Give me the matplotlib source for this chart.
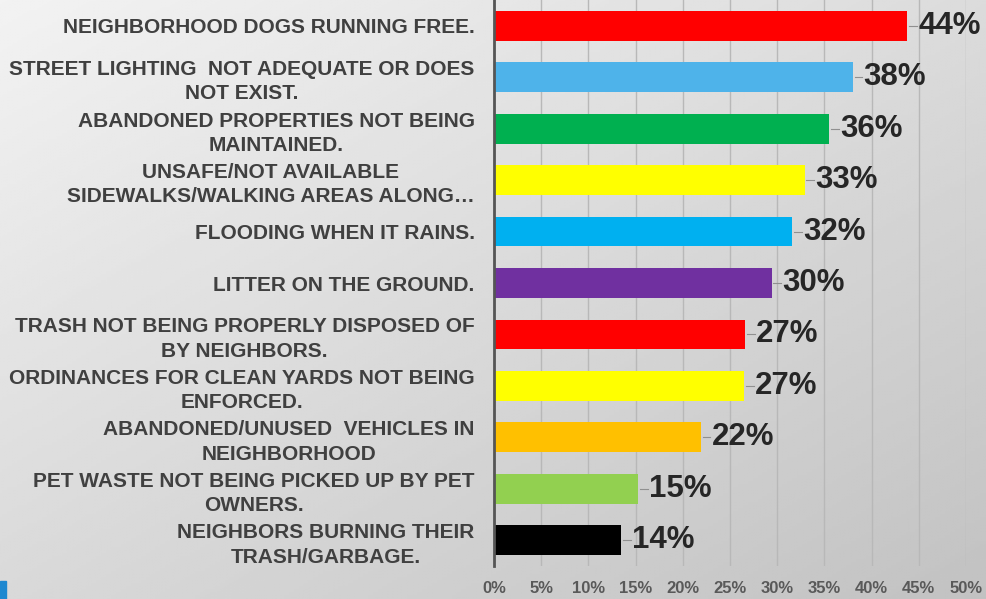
import matplotlib.pyplot as plt
import numpy as np
from matplotlib.patches import Rectangle

plt.rcParams["font.family"] = ["Liberation Sans", "DejaVu Sans"]

categories = [
    "NEIGHBORHOOD DOGS RUNNING FREE.",
    "STREET LIGHTING  NOT ADEQUATE OR DOES\nNOT EXIST.",
    "ABANDONED PROPERTIES NOT BEING\nMAINTAINED.",
    "UNSAFE/NOT AVAILABLE\nSIDEWALKS/WALKING AREAS ALONG…",
    "FLOODING WHEN IT RAINS.",
    "LITTER ON THE GROUND.",
    "TRASH NOT BEING PROPERLY DISPOSED OF\nBY NEIGHBORS.",
    "ORDINANCES FOR CLEAN YARDS NOT BEING\nENFORCED.",
    "ABANDONED/UNUSED  VEHICLES IN\nNEIGHBORHOOD",
    "PET WASTE NOT BEING PICKED UP BY PET\nOWNERS.",
    "NEIGHBORS BURNING THEIR\nTRASH/GARBAGE.",
]
values = [43.8, 38.0, 35.5, 32.9, 31.6, 29.4, 26.6, 26.5, 21.9, 15.3, 13.5]
value_labels = ["44%", "38%", "36%", "33%", "32%", "30%", "27%", "27%", "22%", "15%", "14%"]
bar_colors = ["#FF0000", "#4EB3EA", "#00B050", "#FFFF00", "#00B0F0", "#7030A0",
              "#FF0000", "#FFFF00", "#FFC000", "#92D050", "#000000"]
x_ticks = list(range(0, 51, 5))

fig = plt.figure(figsize=(9.87, 5.99), dpi=100)

# slide-like gradient background
bg = fig.add_axes([0, 0, 1, 1], zorder=-10)
gx, gy = np.meshgrid(np.linspace(0, 1, 200), np.linspace(0, 1, 200))
shade = 0.95 - 0.09 * gx - 0.10 * gy
bg.imshow(shade, cmap="gray", vmin=0, vmax=1, aspect="auto", extent=[0, 1, 0, 1],
          origin="upper")
bg.axis("off")
fig.patches.append(Rectangle((0, 0), 0.006, 0.03, transform=fig.transFigure,
                             color="#1E88D0", zorder=5))

ax = fig.add_axes([0.5005, 0.055, 0.4782, 0.945])
ax.patch.set_alpha(0)

y = np.arange(len(categories))
ax.barh(y, values, height=0.58, color=bar_colors, edgecolor="none", zorder=3)

for yi, v, lab in zip(y, values, value_labels):
    ax.plot([v + 0.2, v + 1.0], [yi, yi], color="#909090", lw=0.8, zorder=3)
    ax.text(v + 1.15, yi, lab, ha="left", va="center", fontsize=22.5,
            fontweight="bold", color="#262626", zorder=4)

ax.set_xlim(0, 50)
ax.set_ylim(len(categories) - 0.5, -0.5)
ax.set_xticks(x_ticks)
ax.set_xticklabels([f"{t}%" for t in x_ticks], fontsize=12, color="#595959",
                   fontweight="bold")
ax.set_yticks(y)
ax.set_yticklabels(categories, fontsize=15, fontweight="bold", color="#404040",
                   linespacing=1.35)
for t in ax.get_yticklabels():
    t.set_multialignment("center")
ax.tick_params(axis="both", length=0)
ax.tick_params(axis="y", pad=14)
ax.tick_params(axis="x", pad=11)

ax.grid(axis="x", color="#b8b8b8", lw=1, zorder=0)
for side in ["top", "right", "bottom"]:
    ax.spines[side].set_visible(False)
ax.spines["left"].set_color("#555555")
ax.spines["left"].set_linewidth(2)
ax.spines["left"].set_zorder(5)

fig.savefig("out.png", dpi=100)
